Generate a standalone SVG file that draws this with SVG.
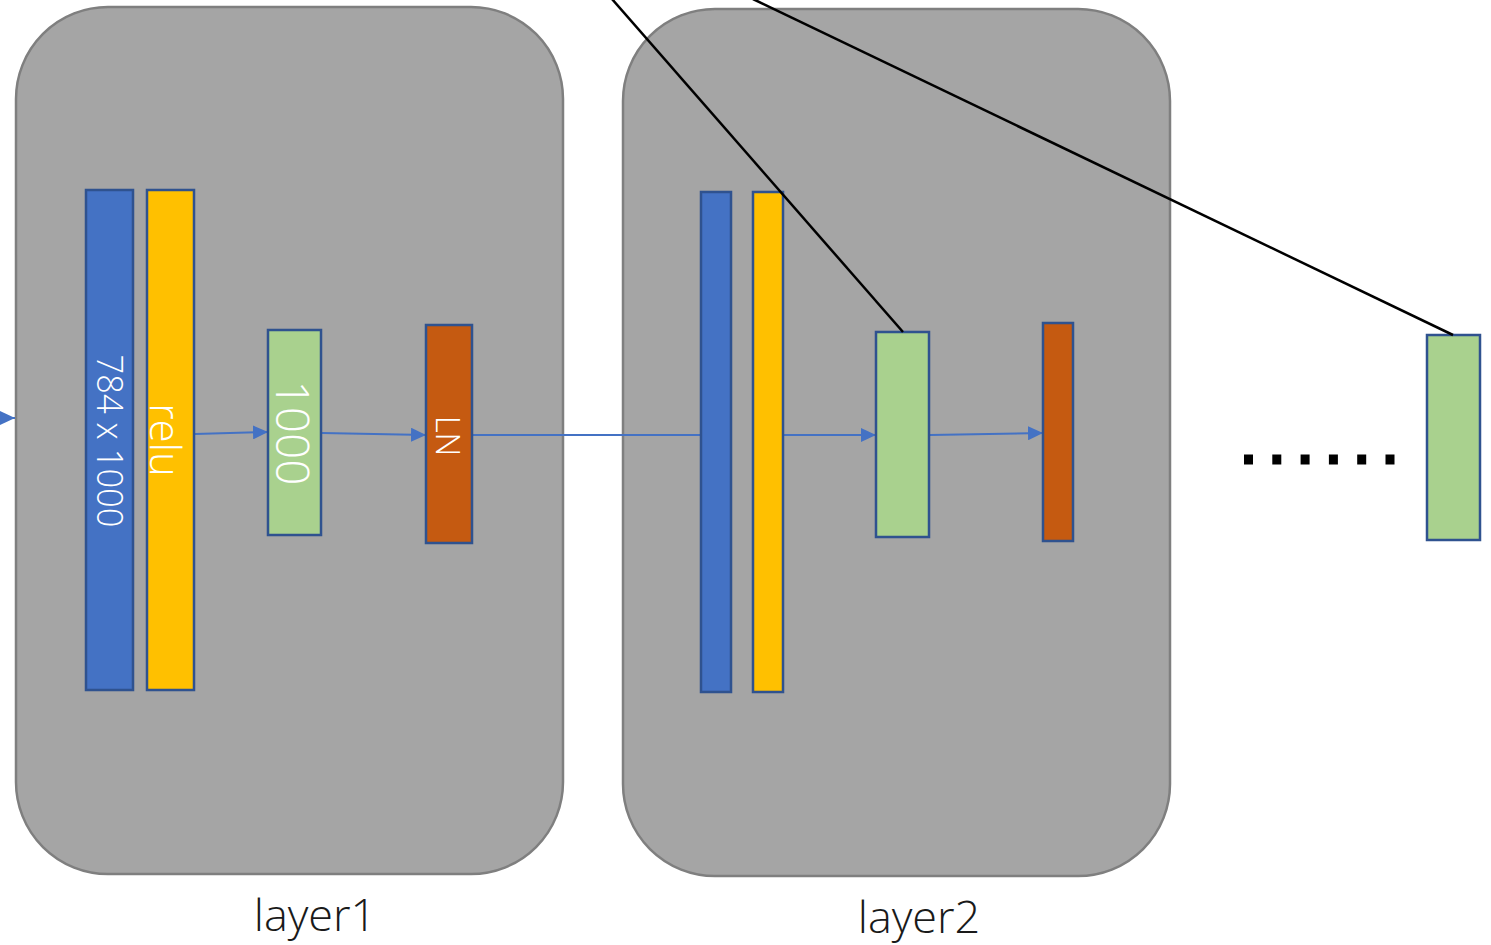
<svg xmlns="http://www.w3.org/2000/svg" width="1491" height="945" viewBox="0 0 1491 945">
  <style>
    .layer { fill: #a5a5a5; stroke: #7f7f7f; stroke-width: 2.5; }
    .blk { stroke: #2f528f; stroke-width: 2.5; }
    .blue { fill: #4472c4; }
    .yellow { fill: #ffc000; }
    .green { fill: #a9d18e; }
    .orange { fill: #c55a11; }
    .flow { stroke: #4472c4; stroke-width: 2; fill: none; }
    .link { stroke: #000; stroke-width: 2.5; fill: none; }
    .lbl { font-family: "Open Sans", "Noto Sans", sans-serif; font-weight: 350; fill: #fff; text-anchor: middle; dominant-baseline: central; }
    .cap { font-family: "Open Sans", "Noto Sans", sans-serif; font-weight: 350; fill: #1a1a1a; font-size: 45px; text-anchor: middle; }
  </style>
  <defs>
    <marker id="arr" markerUnits="userSpaceOnUse" markerWidth="16" markerHeight="14" refX="15" refY="7" orient="auto">
      <path d="M0,0 L15,7 L0,14 Z" fill="#4472c4"/>
    </marker>
  </defs>

  <!-- layer containers -->
  <g id="layer1">
    <rect class="layer" x="16" y="7" width="547" height="867" rx="92" ry="92"/>
    <text class="cap" x="315" y="931">layer1</text>
  </g>
  <g id="layer2">
    <rect class="layer" x="623" y="9" width="547" height="867" rx="92" ry="92"/>
    <text class="cap" x="919" y="933">layer2</text>
  </g>

  <!-- flow connectors -->
  <g id="connectors">
    <line class="flow" x1="-10" y1="418" x2="15" y2="418" marker-end="url(#arr)"/>
    <line class="flow" x1="195" y1="434" x2="268" y2="432" marker-end="url(#arr)"/>
    <line class="flow" x1="322" y1="433" x2="426" y2="435" marker-end="url(#arr)"/>
    <line class="flow" x1="473" y1="435" x2="702" y2="435"/>
    <line class="flow" x1="784" y1="435" x2="876" y2="435" marker-end="url(#arr)"/>
    <line class="flow" x1="930" y1="435" x2="1043" y2="433" marker-end="url(#arr)"/>
  </g>

  <!-- layer1 blocks -->
  <g id="l1-weights">
    <rect class="blk blue" x="86" y="190" width="47" height="500"/>
    <text class="lbl" font-size="36" transform="translate(110 441) rotate(90)" textLength="173" lengthAdjust="spacingAndGlyphs">784 x 1000</text>
  </g>
  <g id="l1-relu">
    <rect class="blk yellow" x="147" y="190" width="47" height="500"/>
    <text class="lbl" font-size="42" transform="translate(166 440) rotate(90)">relu</text>
  </g>
  <g id="l1-out">
    <rect class="blk green" x="268" y="330" width="53" height="205"/>
    <text class="lbl" font-size="46" transform="translate(294 433) rotate(90)">1000</text>
  </g>
  <g id="l1-ln">
    <rect class="blk orange" x="426" y="325" width="46" height="218"/>
    <text class="lbl" font-size="33" transform="translate(448 436) rotate(90)">LN</text>
  </g>

  <!-- layer2 blocks -->
  <g id="l2-weights">
    <rect class="blk blue" x="701" y="192" width="30" height="500"/>
  </g>
  <g id="l2-relu">
    <rect class="blk yellow" x="753" y="192" width="30" height="500"/>
  </g>
  <g id="l2-out">
    <rect class="blk green" x="876" y="332" width="53" height="205"/>
  </g>
  <g id="l2-ln">
    <rect class="blk orange" x="1043" y="323" width="30" height="218"/>
  </g>

  <!-- collected outputs -->
  <g id="ellipsis">
    <line x1="1244" y1="459.5" x2="1395" y2="459.5" stroke="#000" stroke-width="10" stroke-dasharray="9 19.3"/>
  </g>
  <g id="final-out">
    <rect class="blk green" x="1427" y="335" width="53" height="205"/>
  </g>

  <!-- skip links -->
  <g id="links">
    <line class="link" x1="612" y1="-1" x2="903" y2="332"/>
    <line class="link" x1="753" y1="-1" x2="1453" y2="335"/>
  </g>
</svg>
